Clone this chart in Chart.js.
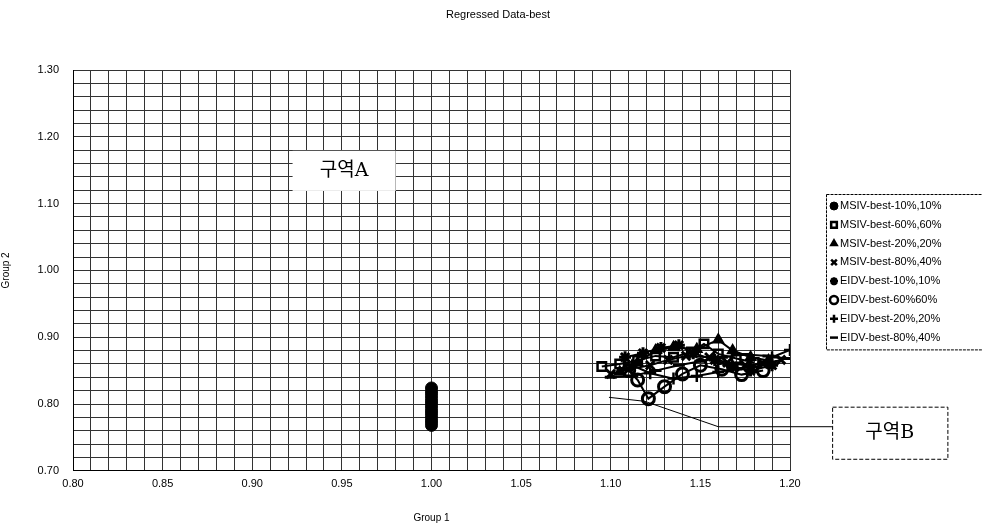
<!DOCTYPE html>
<html><head><meta charset="utf-8">
<script src="https://cdn.jsdelivr.net/npm/chart.js@4.4.0/dist/chart.umd.min.js"></script>
<style>html,body{margin:0;padding:0;background:#fff}#wrap{width:982px;height:532px;position:relative}</style>
</head><body><div id="wrap"><canvas id="c"></canvas></div>
<script>
// ---- data ----
const chartTitle = 'Regressed Data-best';
const xAxisTitle = 'Group 1';
const yAxisTitle = 'Group 2';
const seriesNames = ['MSIV-best-10%,10%','MSIV-best-60%,60%','MSIV-best-20%,20%','MSIV-best-80%,40%',
                     'EIDV-best-10%,10%','EIDV-best-60%60%','EIDV-best-20%,20%','EIDV-best-80%,40%'];
const msiv10x = [1.000,1.000,1.000,1.000,1.000,1.000,1.000,1.000,1.000,1.000,1.000,1.000];
const msiv10y = [0.768,0.773,0.778,0.783,0.788,0.793,0.798,0.803,0.808,0.813,0.818,0.824];
const msiv60x = [1.095,1.105,1.115,1.125,1.135,1.145,1.152,1.160,1.170,1.180];
const msiv60y = [0.856,0.860,0.865,0.872,0.870,0.878,0.890,0.875,0.868,0.862];
const msiv20x = [1.105,1.115,1.125,1.135,1.148,1.160,1.168,1.178,1.188];
const msiv20y = [0.848,0.862,0.880,0.885,0.882,0.896,0.880,0.870,0.865];
const msiv80x = [1.100,1.110,1.122,1.132,1.142,1.155,1.165,1.175,1.185,1.195];
const msiv80y = [0.845,0.852,0.858,0.866,0.872,0.870,0.862,0.858,0.860,0.866];
const eidv10x = [1.108,1.118,1.128,1.138,1.146,1.158,1.168,1.178,1.190];
const eidv10y = [0.870,0.876,0.884,0.888,0.876,0.866,0.856,0.850,0.858];
const eidv60x = [1.110,1.115,1.121,1.130,1.140,1.150,1.162,1.173,1.185];
const eidv60y = [0.850,0.836,0.808,0.826,0.845,0.858,0.852,0.844,0.850];
const eidv20x = [1.112,1.122,1.135,1.148,1.160,1.170,1.178,1.190,1.200];
const eidv20y = [0.858,0.846,0.838,0.842,0.848,0.852,0.856,0.870,0.881];
const eidv80x = [1.100,1.112,1.125,1.138,1.150,1.162,1.175,1.188,1.198];
const eidv80y = [0.840,0.842,0.850,0.858,0.864,0.870,0.874,0.872,0.868];
const xTickLabels = ['0.80','0.85','0.90','0.95','1.00','1.05','1.10','1.15','1.20'];
const yTickLabels = ['0.70','0.80','0.90','1.00','1.10','1.20','1.30'];
const zoneALabel = '구역A';
const zoneBLabel = '구역B';

// ---- build ----
const xs = [msiv10x,msiv60x,msiv20x,msiv80x,eidv10x,eidv60x,eidv20x,eidv80x];
const ys = [msiv10y,msiv60y,msiv20y,msiv80y,eidv10y,eidv60y,eidv20y,eidv80y];
const styles = [
  {pointStyle:'circle', fill:true, bw:1, r:6, line:false},
  {pointStyle:'rect', fill:false, bw:2.5, r:6, line:true},
  {pointStyle:'triangle', fill:true, bw:1.5, r:6, line:true},
  {pointStyle:'crossRot', fill:false, bw:3, r:6, line:true},
  {pointStyle:'star', fill:false, bw:3, r:6, line:true},
  {pointStyle:'circle', fill:false, bw:3, r:6, line:true},
  {pointStyle:'cross', fill:false, bw:2.5, r:6, line:true},
  {pointStyle:'line', fill:false, bw:3, r:6, line:true}
];
const datasets = seriesNames.map((n,i)=>({
  label:n,
  data: xs[i].map((x,j)=>({x:x,y:ys[i][j]})),
  showLine: styles[i].line,
  borderColor:'#000',
  borderWidth:2,
  backgroundColor: styles[i].fill ? '#000' : 'rgba(255,255,255,0)',
  pointStyle: styles[i].pointStyle,
  pointRadius: styles[i].r,
  pointBorderWidth: styles[i].bw,
  pointBorderColor:'#000',
  pointBackgroundColor: styles[i].fill ? '#000' : 'rgba(255,255,255,0)'
}));

const FONT = '"Liberation Sans", Arial, sans-serif';

const annot = {
  id:'annot',
  beforeDatasetsDraw(chart){
    const ctx = chart.ctx, xs_ = chart.scales.x, ys_ = chart.scales.y;
    ctx.save();
    const ax0 = xs_.getPixelForValue(0.9225), ax1 = xs_.getPixelForValue(0.980);
    const ay0 = ys_.getPixelForValue(1.179), ay1 = ys_.getPixelForValue(1.119);
    ctx.fillStyle = '#fff';
    ctx.fillRect(ax0, ay0, ax1-ax0, ay1-ay0);
    ctx.fillStyle = '#000';
    ctx.font = '19px "DejaVu Serif", "Noto Sans CJK KR", serif';
    ctx.textAlign = 'center'; ctx.textBaseline = 'middle';
    ctx.fillText(zoneALabel, (ax0+ax1)/2, (ay0+ay1)/2);
    ctx.restore();
  },
  afterDraw(chart){
    const ctx = chart.ctx, xs_ = chart.scales.x, ys_ = chart.scales.y;
    ctx.save();
    // title, centred on the page
    ctx.fillStyle = '#000'; ctx.font = '11px ' + FONT;
    ctx.textAlign = 'center'; ctx.textBaseline = 'middle';
    ctx.fillText(chartTitle, chart.width/2 + 7, 15);
    // leader line to zone B
    const pts = [[1.099,0.810],[1.119,0.804],[1.160,0.766],[1.2235,0.766]];
    ctx.strokeStyle = '#000'; ctx.lineWidth = 1;
    ctx.beginPath();
    pts.forEach((p,i)=>{const px=xs_.getPixelForValue(p[0]), py=ys_.getPixelForValue(p[1]); i?ctx.lineTo(px,py):ctx.moveTo(px,py);});
    ctx.stroke();
    const bx0 = xs_.getPixelForValue(1.2235), bx1 = xs_.getPixelForValue(1.2878);
    const by0 = ys_.getPixelForValue(0.796), by1 = ys_.getPixelForValue(0.718);
    ctx.fillStyle = '#fff'; ctx.fillRect(bx0,by0,bx1-bx0,by1-by0);
    ctx.setLineDash([4,2]); ctx.strokeStyle = '#000';
    ctx.strokeRect(bx0+0.5,by0+0.5,bx1-bx0,by1-by0);
    ctx.setLineDash([]);
    ctx.fillStyle = '#000';
    ctx.font = '19px "DejaVu Serif", "Noto Sans CJK KR", serif';
    ctx.textAlign = 'center'; ctx.textBaseline = 'middle';
    ctx.fillText(zoneBLabel, (bx0+bx1)/2, (by0+by1)/2);
    // legend
    const lx = chart.chartArea.right + 36, ly = 206, dy = 18.8;
    ctx.strokeStyle = '#000'; ctx.lineWidth = 1; ctx.setLineDash([3,1]);
    ctx.strokeRect(lx+0.5, ly-11.5, 200, dy*8+5);
    ctx.setLineDash([]);
    ctx.font = '11px ' + FONT; ctx.textAlign = 'left'; ctx.textBaseline='middle';
    chart.data.datasets.forEach((d,i)=>{
      const y = ly + i*dy;
      ctx.fillStyle = d.pointBackgroundColor; ctx.strokeStyle = '#000';
      ctx.lineWidth = Math.min(d.pointBorderWidth, 2.5);
      Chart.helpers.drawPoint(ctx, {pointStyle:d.pointStyle, radius:4, borderWidth:ctx.lineWidth, rotation:0}, lx+8, y);
      ctx.fillStyle = '#000';
      ctx.fillText(d.label, lx+14, y);
    });
    ctx.restore();
  }
};

new Chart(document.getElementById('c'), {
  type:'scatter',
  data:{datasets},
  plugins:[annot],
  options:{
    responsive:true, maintainAspectRatio:false, animation:false,
    layout:{padding:{left:0,right:192,top:70,bottom:8}},
    plugins:{
      legend:{display:false},
      tooltip:{enabled:false},
      title:{display:false}
    },
    scales:{
      x:{type:'linear', min:0.8, max:1.2,
        border:{color:'#000', width:1},
        grid:{color:'#333', lineWidth:1, drawTicks:false},
        ticks:{stepSize:0.01, autoSkip:false, maxRotation:0, minRotation:0, padding:7, color:'#000', font:{family:FONT,size:11},
          callback:(v)=>{const r=Math.round(v*100); return r%5===0 ? xTickLabels[(r-80)/5] : '';}},
        title:{display:true, text:xAxisTitle, color:'#000', font:{family:FONT,size:10}, padding:{top:14,bottom:0}}
      },
      y:{type:'linear', min:0.7, max:1.3,
        border:{color:'#000', width:1},
        grid:{color:'#333', lineWidth:1, drawTicks:false},
        afterFit:(s)=>{s.width = 73;},
        ticks:{stepSize:0.02, autoSkip:false, padding:14, color:'#000', font:{family:FONT,size:11},
          callback:(v)=>{const r=Math.round(v*100); return r%10===0 ? yTickLabels[(r-70)/10] : '';}},
        title:{display:true, text:yAxisTitle, color:'#000', font:{family:FONT,size:10}, padding:{top:0,bottom:4}}
      }
    }
  }
});
</script></body></html>
